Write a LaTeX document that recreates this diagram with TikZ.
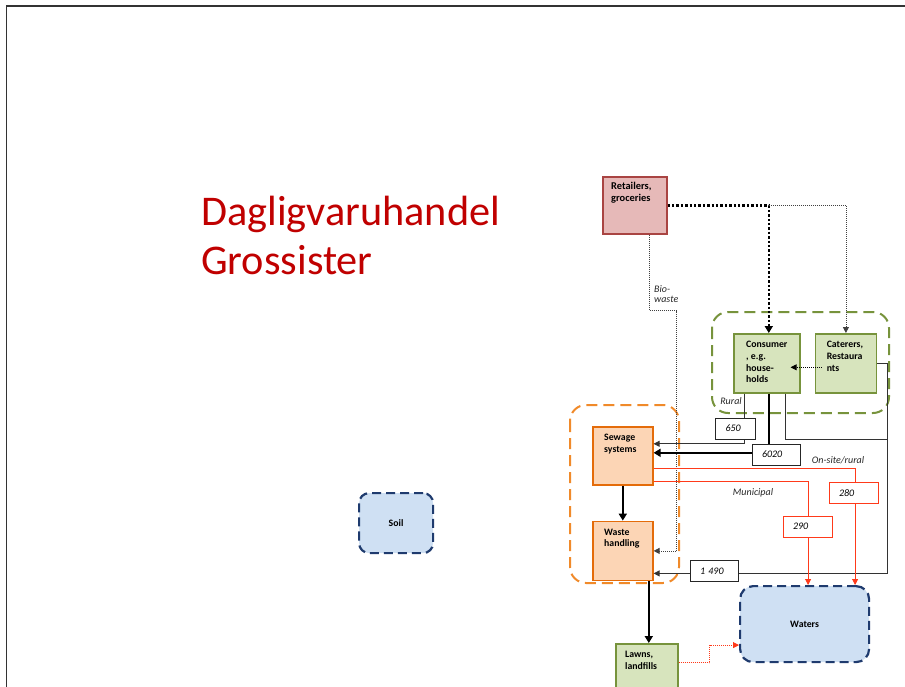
\documentclass[tikz,border=0pt]{standalone}
\usepackage{fontspec}
\setmainfont{Carlito}
\usepackage{tikz}
\usetikzlibrary{positioning,arrows.meta}
\definecolor{titred}{HTML}{C00000}
\definecolor{retfill}{HTML}{E6B9B8}
\definecolor{retline}{HTML}{A94442}
\definecolor{grnfill}{HTML}{D7E4BD}
\definecolor{grnline}{HTML}{77933C}
\definecolor{orgfill}{HTML}{FCD5B5}
\definecolor{orgline}{HTML}{E46C0A}
\definecolor{orgdash}{HTML}{F08A2A}
\definecolor{blufill}{HTML}{CFE0F3}
\definecolor{bluline}{HTML}{1F3B6E}
\definecolor{redflow}{HTML}{FF3A1A}

\begin{document}
\begin{tikzpicture}[x=1pt, y=-1pt,
    frm/.style={draw=black!80, line width=1.6pt},
    ttl/.style={anchor=north west, inner sep=0pt, align=left, text=titred,
      font=\fontsize{42.3}{49}\selectfont},
    bx/.style={rectangle, draw, line width=1.6pt, inner sep=0pt, anchor=north west},
    rbx/.style={bx, draw=retline, fill=retfill},
    gbx/.style={bx, draw=grnline, fill=grnfill},
    obx/.style={bx, draw=orgline, fill=orgfill},
    nbx/.style={bx, draw=bluline, fill=blufill, line width=2.2pt,
      dash pattern=on 9pt off 5pt, rounded corners=13pt,
      font=\fontsize{9.8}{11.6}\selectfont\bfseries},
    bxtxt/.style={anchor=north west, align=left, inner xsep=12pt, inner ysep=8pt,
      font=\fontsize{9.8}{11.7}\selectfont\bfseries},
    gdash/.style={draw=grnline, line width=2pt, dash pattern=on 11pt off 6pt,
      rounded corners=16pt},
    odash/.style={draw=orgdash, line width=2pt, dash pattern=on 11pt off 6pt,
      rounded corners=16pt},
    thk/.style={draw=black, line width=2.2pt, -{Triangle[width=8pt,length=7pt]}},
    thn/.style={draw=black!80, line width=0.8pt, -{Triangle[width=6pt,length=6pt]}},
    dotk/.style={draw=black, line width=2.4pt, dash pattern=on 2.4pt off 2pt,
      -{Triangle[width=8pt,length=7pt]}},
    dotn/.style={draw=black!75, line width=0.8pt, dash pattern=on 1pt off 1pt,
      -{Triangle[width=6pt,length=6pt]}},
    rfl/.style={draw=redflow, line width=0.9pt, -{Triangle[width=6pt,length=6pt]}},
    rdot/.style={draw=redflow, line width=0.9pt, dash pattern=on 1pt off 1pt,
      -{Triangle[width=6pt,length=6pt]}},
    val/.style={draw=black!85, fill=white, line width=0.8pt, inner xsep=10pt,
      inner ysep=0pt, minimum height=21pt, align=left,
      font=\fontsize{10}{11}\selectfont\itshape},
    itl/.style={inner sep=0pt, font=\fontsize{10}{10.7}\selectfont\itshape, text=black!85}]

  \useasboundingbox (0,0) rectangle (905,686);
  \draw[frm] (6.5,690) -- (6.5,6) -- (910,6);

  \node[ttl] (title) at (201,195.5) {Dagligvaruhandel\\Grossister};

  \draw[gdash] (712,312) rectangle (889,413);
  \draw[odash] (570,405) rectangle (679,583);

  \node[rbx, minimum width=64pt, minimum height=57pt,
    label={[bxtxt, inner xsep=9pt, inner ysep=6pt, font=\fontsize{10.4}{11.5}\selectfont\bfseries]north west:Retailers,\\groceries}] (ret) at (602,176) {};
  \node[gbx, minimum width=66pt, minimum height=59pt,
    label={[bxtxt, inner xsep=13pt]north west:Consumer\\, e.g.\\house-\\holds}] (cons) at (733,333) {};
  \node[gbx, minimum width=61pt, minimum height=59pt, right=14pt of cons,
    label={[bxtxt]north west:Caterers,\\Restaura\\nts}] (cat) {};
  \node[obx, minimum width=60pt, minimum height=58pt,
    label={[bxtxt]north west:Sewage\\systems}] (sew) at (592,426) {};
  \node[obx, minimum width=60pt, minimum height=59pt, below=35pt of sew,
    label={[bxtxt]north west:Waste\\handling}] (wst) {};
  \node[gbx, minimum width=62pt, minimum height=46pt,
    label={[bxtxt, inner xsep=10pt]north west:Lawns,\\landfills}] (lawn) at (615,643) {};
  \node[nbx, minimum width=129pt, minimum height=76pt] (wat) at (739,585) {Waters};
  \node[nbx, minimum width=74pt, minimum height=60pt, rounded corners=10pt] (soil) at (358,492) {Soil};

  \coordinate (ch) at ([xshift=2pt]cons.north);
  \draw[dotk] (ret.east) -| (ch);
  \draw[dotn] (ch |- ret.east) -| (cat.north);
  \coordinate (bw) at ([xshift=15pt]ret.south);
  \draw[dotn] (bw) -- ++(0,76) -| ([xshift=23pt]wst.east) -- (wst.east);
  \draw[dotn, draw=black] ([shift={(7,4)}]cat.west) -- ([shift={(-10,4)}]cons.east);

  \coordinate (cr) at ([xshift=10pt]cat.east);
  \draw[thn] (cat.east) -- (cr) |- ([shift={(0,22.5)}]wst.east);
  \draw[thn, -] ([xshift=19pt]cons.south) |- ([shift={(0,76)}]cr);
  \draw[thn] ([xshift=-22pt]cons.south) |- ([shift={(0,-12)}]sew.east);
  \draw[thk] ([xshift=2pt]cons.south) |- ([shift={(0,-3)}]sew.east);

  \draw[rfl] ([shift={(0,13)}]sew.east) -| ([xshift=50.5pt]wat.north);
  \draw[rfl] ([shift={(0,26)}]sew.east) -| ([xshift=3.5pt]wat.north);

  \draw[thk] (sew) -- (wst);
  \coordinate (wl) at ([xshift=26pt]wst.south);
  \draw[thk] (wl) -- (wl |- lawn.north);
  \draw[rdot] ([shift={(0,-4)}]lawn.east) -- ++(31,0) |- ([shift={(0,21)}]wat.west);

  \node[val, text width=20pt] (v650) at (735.5,428.5) {650};
  \node[val, text width=28pt] (v6020) at (776,454.5) {6020};
  \node[val, text width=28pt] (v1490) at (714,571) {1 490};
  \node[val, text width=29pt, draw=redflow] (v280) at (853.5,493) {280};
  \node[val, text width=29pt, draw=redflow] (v290) at (807.5,526.5) {290};

  \node[itl] (rural) at (731,401) {Rural};
  \node[itl] (onsite) at (838,460) {On-site/rural};
  \node[itl] (munic) at (753,493) {Municipal};
  \node[itl, align=left, anchor=north west] (bio) at (654,285) {Bio-\\waste};
\end{tikzpicture}
\end{document}
